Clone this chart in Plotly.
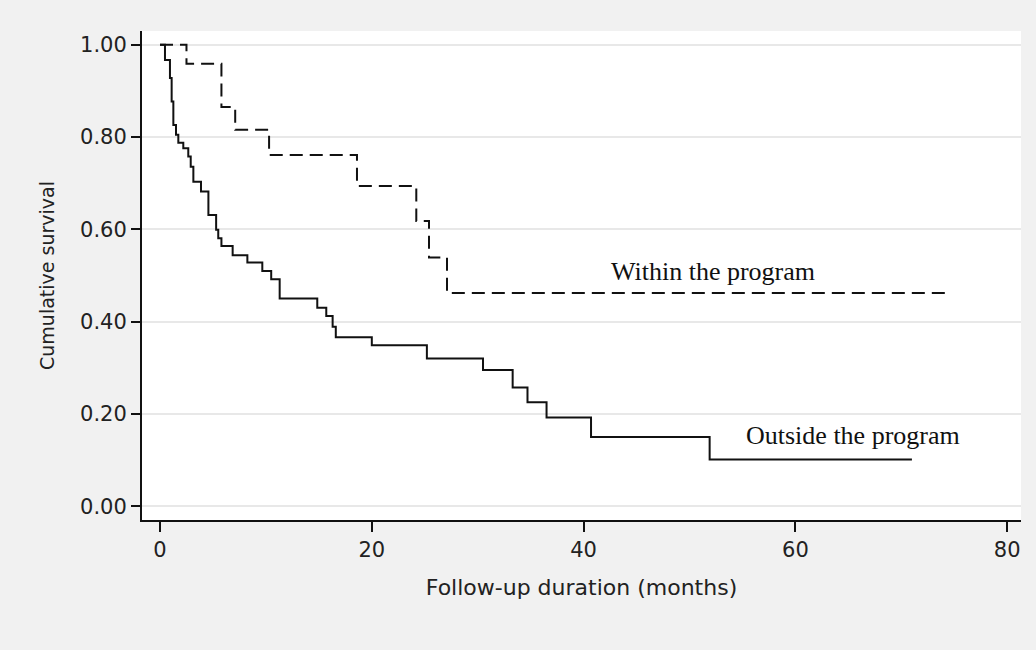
import plotly.graph_objects as go

# Kaplan-Meier step data
within_t = [0, 2.5, 5.8, 7.1, 10.3, 18.6, 24.2, 25.4, 27.1, 74.6]
within_s = [1.0, 0.959, 0.865, 0.816, 0.761, 0.694, 0.618, 0.539, 0.462, 0.462]

outside_t = [0, 0.47, 0.94, 1.1, 1.26, 1.51, 1.73, 2.2, 2.67, 2.9, 3.15, 3.87, 4.57,
             5.3, 5.5, 5.8, 6.86, 8.25, 9.66, 10.5, 11.3, 14.85, 15.7, 16.3, 16.6,
             20.0, 25.2, 30.5, 33.3, 34.7, 36.5, 40.7, 51.9, 71.0]
outside_s = [1.0, 0.967, 0.928, 0.877, 0.826, 0.805, 0.788, 0.776, 0.758, 0.736, 0.703,
             0.682, 0.631, 0.599, 0.581, 0.564, 0.544, 0.528, 0.510, 0.492, 0.450, 0.430,
             0.412, 0.389, 0.366, 0.349, 0.320, 0.295, 0.257, 0.225, 0.192, 0.150, 0.101,
             0.101]

x_ticks = [0, 20, 40, 60, 80]
y_ticks = [0.0, 0.2, 0.4, 0.6, 0.8, 1.0]
y_tick_text = ["0.00", "0.20", "0.40", "0.60", "0.80", "1.00"]

labels = ["Within the program", "Outside the program"]
label_x = [52.2, 65.4]
label_y = [0.508, 0.154]

fig = go.Figure()
fig.add_trace(go.Scatter(x=within_t, y=within_s, mode="lines", line_shape="hv",
                         line=dict(color="#111111", width=2, dash="13px,7px"),
                         name=labels[0], showlegend=False))
fig.add_trace(go.Scatter(x=outside_t, y=outside_s, mode="lines", line_shape="hv",
                         line=dict(color="#111111", width=2),
                         name=labels[1], showlegend=False))

for txt, lx, ly in zip(labels, label_x, label_y):
    fig.add_annotation(x=lx, y=ly, xref="x", yref="y", text=txt, showarrow=False,
                       font=dict(family="Liberation Serif, Times New Roman, serif",
                                 size=26, color="#111111"))

tick_font = dict(family="DejaVu Sans, Arial, sans-serif", size=21, color="#222222")

fig.update_xaxes(range=[-1.7, 81.3], tickvals=x_ticks, ticks="outside", ticklen=10,
                 tickwidth=2, tickcolor="#111111", showline=True, linecolor="#111111",
                 linewidth=2, showgrid=False, zeroline=False, tickfont=tick_font,
                 title=dict(text="Follow-up duration (months)", standoff=18,
                            font=dict(family="DejaVu Sans, Arial, sans-serif",
                                      size=22, color="#222222")))
fig.update_yaxes(range=[-0.03, 1.03], tickvals=y_ticks, ticktext=y_tick_text,
                 ticks="outside", ticklen=9, tickwidth=2, tickcolor="#111111",
                 showline=True, linecolor="#111111", linewidth=2, showgrid=True,
                 gridcolor="#e8e8e8", gridwidth=2, zeroline=False, tickfont=tick_font,
                 title=dict(text="Cumulative survival", standoff=20,
                            font=dict(family="DejaVu Sans, Arial, sans-serif",
                                      size=19, color="#222222")))

fig.update_layout(width=1036, height=650, paper_bgcolor="#f1f1f1", plot_bgcolor="#ffffff",
                  margin=dict(l=142, r=15, t=31, b=130), showlegend=False)

fig.write_html("out.html", config={"displayModeBar": False},
               post_script="document.body.style.margin='0';document.body.style.overflow='hidden';")
